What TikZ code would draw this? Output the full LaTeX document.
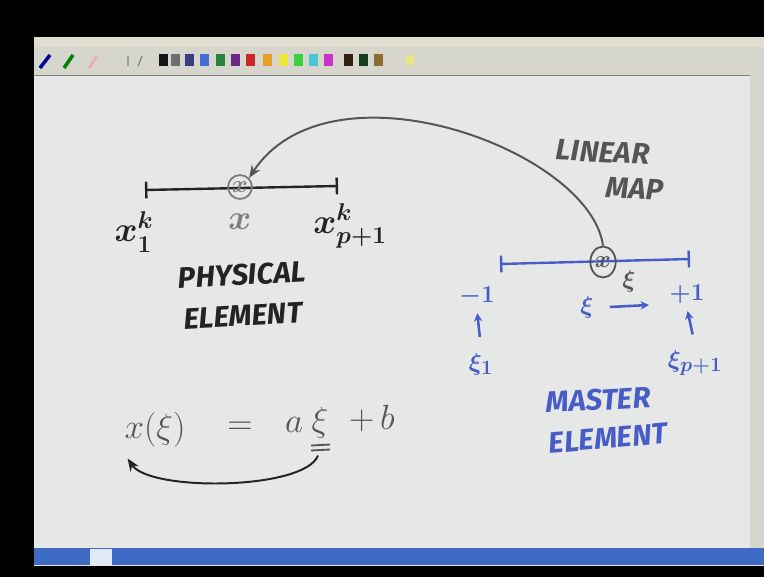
\documentclass[tikz,border=0pt]{standalone}
\usepackage{fontspec}
\usepackage{amsmath}
\usepackage{tikz}
\usetikzlibrary{shapes.geometric, arrows.meta, positioning, calc}
\newfontfamily\handfont{Fira Sans}
\definecolor{canvas}{RGB}{229,232,230}
\definecolor{chrome}{RGB}{214,214,204}
\definecolor{menubar}{RGB}{224,222,208}
\definecolor{taskblue}{RGB}{62,108,196}
\definecolor{inkdark}{RGB}{35,35,35}
\definecolor{inkgrey}{RGB}{85,85,85}
\definecolor{inklight}{RGB}{125,125,125}
\definecolor{inkblue}{RGB}{72,92,200}
\tikzset{
  elem/.style={line width=1.7pt, {Bar[width=12pt]}-{Bar[width=12pt]}},
  spot/.style={circle, draw, line width=1.3pt, minimum size=17pt, inner sep=0pt},
  caps/.style={font=\handfont\bfseries\itshape\fontsize{21}{25}\selectfont},
  hmath/.style={font=\boldmath\fontsize{24}{28}\selectfont},
  eqmath/.style={font=\fontsize{32}{36}\selectfont, text=inkgrey},
  smath/.style={font=\boldmath\fontsize{19}{22}\selectfont},
  maparrow/.style={-{Stealth[length=9pt,width=7pt]}, line width=1.4pt},
  upar/.style={-{Stealth[length=6pt,width=6pt]}, line width=1.8pt, color=inkblue}
}
\begin{document}
\begin{tikzpicture}[x=0.025cm, y=-0.025cm]
  \useasboundingbox (0,0) rectangle (764,577);
  % Screen and window chrome
  \fill[black] (0,0) rectangle (764,577);
  \fill[canvas] (34,37) rectangle (764,566);
  \fill[menubar] (34,37) rectangle (764,47);
  \fill[chrome] (34,47) rectangle (764,75);
  \draw[gray, line width=0.6pt] (34,75) -- (764,75);
  \fill[chrome] (750,75) rectangle (764,548);
  \fill[taskblue] (34,548) rectangle (764,565);
  \fill[white!85!taskblue] (90,549) rectangle (112,565);
  % Pen tools
  \draw[line width=2.5pt, color=blue!60!black] (40,68) -- (50,55);
  \draw[line width=2.5pt, color=green!50!black] (64,68) -- (73,55);
  \draw[line width=2pt, color=pink!80!gray] (89,68) -- (97,56);
  \draw[line width=0.8pt, color=gray] (128,56) -- (128,66) (138,66) -- (142,56);
  % Colour swatches
  \foreach \sx/\sr/\sg/\sb in {163/20/20/20, 175/110/110/110, 189/60/60/130,
      204/70/110/210, 220/40/130/60, 235/110/40/130, 250/200/40/40,
      267/230/160/40, 283/238/232/60, 298/60/210/60, 313/70/200/210,
      328/200/50/200, 348/50/30/20, 363/20/60/30, 378/140/110/50}
    \fill[fill={rgb,255:red,\sr;green,\sg;blue,\sb}] (\sx-4.5,54) rectangle (\sx+4.5,66);
  \fill[yellow!40!chrome] (406,55) rectangle (414,65);

  % Physical element
  \coordinate (pl) at (145,190);
  \coordinate (pr) at (338,186);
  \draw[elem, inkdark] (pl) -- (pr);
  \node[spot, draw=inklight, text=inklight, smath] (physx) at (240,187) {$x$};
  \node[hmath, text=inklight] (xlab) at (240,222) {$x$};
  \node[hmath, text=inkdark] (x1) at (134,232) {$x_1^k$};
  \node[hmath, text=inkdark] (xp1) at (350,226) {$x_{p+1}^k$};
  \node[caps, text=inkdark, rotate=3] (phys) at (242,275) {PHYSICAL};
  \node[caps, text=inkdark, rotate=3] (physel) at (243,316) {ELEMENT};

  % Master element
  \coordinate (ml) at (500,264);
  \coordinate (mr) at (690,259);
  \draw[elem, inkblue] (ml) -- (mr);
  \node[ellipse, draw=inkgrey, line width=1.3pt, minimum width=18pt,
        minimum height=22pt, inner sep=0pt, text=inkgrey, smath] (mastx) at (603,262) {$x$};
  \node[smath, text=inkgrey] (xilab) at (629,281) {$\xi$};
  \node[smath, text=inkblue] (mone) at (477,296) {$-1$};
  \node[smath, text=inkblue] (xi1) at (481,364) {$\xi_1$};
  \node[smath, text=inkblue] (pone) at (687,294) {$+1$};
  \node[smath, text=inkblue] (xip1) at (695,363) {$\xi_{p+1}$};
  \draw[upar, shorten <=8pt, shorten >=2pt] (xi1.north) -- (mone.south);
  \draw[upar, shorten <=8pt, shorten >=2pt] (xip1.north) -- (pone.south);
  \node[smath, text=inkblue] (xidir) at (587,307) {$\xi$};
  \coordinate (xiend) at (649,305);
  \draw[upar] (xidir.east) ++(8pt,0) -- (xiend);
  \node[caps, text=inkblue, rotate=3] (mast) at (598,400) {MASTER};
  \node[caps, text=inkblue, rotate=5] (mastel) at (608,438) {ELEMENT};

  % Linear map
  \draw[maparrow, inkgrey] (mastx.north) .. controls (590,150) and (330,55) .. (physx.north east);
  \node[caps, text=inkgrey, rotate=-3] (lin) at (603,152) {LINEAR};
  \node[caps, text=inkgrey, rotate=-3] (map) at (635,189) {MAP};

  % Mapping formula
  \node[eqmath] (eqlhs) at (155,430) {$x(\xi)$};
  \node[eqmath] (eqeq) at (240,428) {$=$};
  \node[eqmath] (eqa) at (294,425) {$a$};
  \node[eqmath] (eqxi) at (320,423) {$\xi$};
  \node[eqmath] (eqb) at (372,418) {$+\,b$};
  \draw[inkgrey, line width=1.3pt] ($(eqxi.south)+(-9,2)$) -- ++(19,-1)
                                   ($(eqxi.south)+(-9,7)$) -- ++(19,-1);
  \draw[maparrow, inkdark] ($(eqxi.south)+(-2,12)$) .. controls (305,490) and (150,492) .. ($(eqlhs.south west)+(8,6)$);
\end{tikzpicture}
\end{document}
